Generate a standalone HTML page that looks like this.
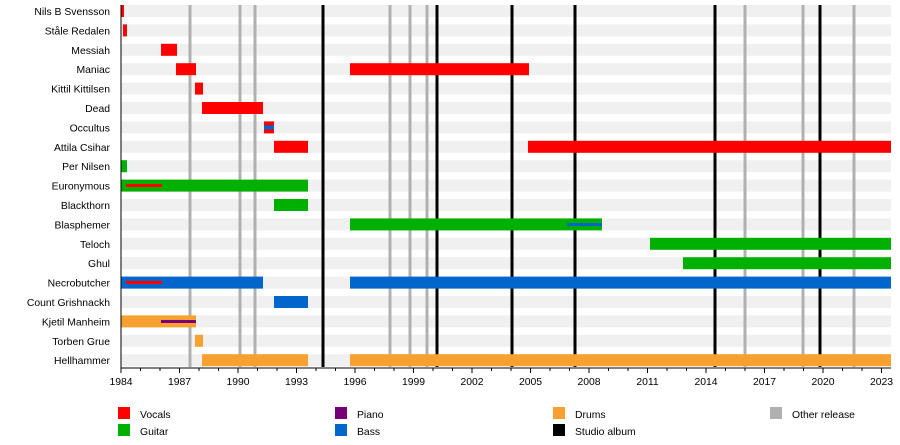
<!DOCTYPE html>
<html><head><meta charset="utf-8"><style>
html,body{margin:0;padding:0;background:#fff;}
svg{display:block;font-family:"Liberation Sans",Arial,sans-serif;font-size:10.4px;}
</style></head><body>
<svg width="900" height="445" viewBox="0 0 900 445" xmlns="http://www.w3.org/2000/svg">
<g fill="#f0f0f0">
<rect x="121" y="5" width="770" height="12"/>
<rect x="121" y="24.4" width="770" height="12"/>
<rect x="121" y="43.8" width="770" height="12"/>
<rect x="121" y="63.2" width="770" height="12"/>
<rect x="121" y="82.6" width="770" height="12"/>
<rect x="121" y="102" width="770" height="12"/>
<rect x="121" y="121.4" width="770" height="12"/>
<rect x="121" y="140.8" width="770" height="12"/>
<rect x="121" y="160.2" width="770" height="12"/>
<rect x="121" y="179.6" width="770" height="12"/>
<rect x="121" y="199" width="770" height="12"/>
<rect x="121" y="218.4" width="770" height="12"/>
<rect x="121" y="237.8" width="770" height="12"/>
<rect x="121" y="257.2" width="770" height="12"/>
<rect x="121" y="276.6" width="770" height="12"/>
<rect x="121" y="296" width="770" height="12"/>
<rect x="121" y="315.4" width="770" height="12"/>
<rect x="121" y="334.8" width="770" height="12"/>
<rect x="121" y="354.2" width="770" height="12"/>
</g>
<g stroke="#b0b0b0" stroke-width="3">
<line x1="190" y1="5" x2="190" y2="367"/>
<line x1="240" y1="5" x2="240" y2="367"/>
<line x1="255" y1="5" x2="255" y2="367"/>
<line x1="390" y1="5" x2="390" y2="367"/>
<line x1="410" y1="5" x2="410" y2="367"/>
<line x1="427" y1="5" x2="427" y2="367"/>
<line x1="745" y1="5" x2="745" y2="367"/>
<line x1="803" y1="5" x2="803" y2="367"/>
<line x1="854" y1="5" x2="854" y2="367"/>
</g>
<g stroke="#000" stroke-width="3">
<line x1="323" y1="5" x2="323" y2="367"/>
<line x1="437" y1="5" x2="437" y2="367"/>
<line x1="512" y1="5" x2="512" y2="367"/>
<line x1="575" y1="5" x2="575" y2="367"/>
<line x1="715" y1="5" x2="715" y2="367"/>
<line x1="820" y1="5" x2="820" y2="367"/>
</g>
<g fill="#ff0000">
<rect x="121" y="5" width="3" height="12"/>
<rect x="123" y="24.4" width="4" height="12"/>
<rect x="161" y="43.8" width="16" height="12"/>
<rect x="176" y="63.2" width="20" height="12"/>
<rect x="350" y="63.2" width="179" height="12"/>
<rect x="195" y="82.6" width="8" height="12"/>
<rect x="202" y="102" width="61" height="12"/>
<rect x="264" y="121.4" width="10" height="12"/>
<rect x="274" y="140.8" width="34" height="12"/>
<rect x="528" y="140.8" width="363" height="12"/>
</g>
<rect x="264" y="125.4" width="10" height="4" fill="#0066cc"/>
<g fill="#00b000">
<rect x="121" y="160.2" width="6" height="12"/>
<rect x="121" y="179.6" width="187" height="12"/>
<rect x="274" y="199" width="34" height="12"/>
<rect x="350" y="218.4" width="252" height="12"/>
<rect x="650" y="237.8" width="241" height="12"/>
<rect x="683" y="257.2" width="208" height="12"/>
</g>
<rect x="126" y="184" width="36" height="3" fill="#ff0000"/>
<rect x="567" y="223" width="35" height="3" fill="#0066cc"/>
<g fill="#0066cc">
<rect x="121" y="276.6" width="142" height="12"/>
<rect x="350" y="276.6" width="541" height="12"/>
<rect x="274" y="296" width="34" height="12"/>
</g>
<rect x="126" y="281" width="36" height="3" fill="#ff0000"/>
<g fill="#f8a030">
<rect x="121" y="315.4" width="75" height="12"/>
<rect x="195" y="334.8" width="8" height="12"/>
<rect x="202" y="354.2" width="106" height="12"/>
<rect x="350" y="354.2" width="541" height="12"/>
</g>
<rect x="161" y="320" width="35" height="3" fill="#770077"/>
<line x1="121" y1="5" x2="121" y2="368" stroke="#000" stroke-width="1"/>
<line x1="121" y1="368" x2="891" y2="368" stroke="#000" stroke-width="1"/>
<g stroke="#000" stroke-width="1">
<line x1="121" y1="368" x2="121" y2="373"/><line x1="140.5" y1="368" x2="140.5" y2="371"/><line x1="160" y1="368" x2="160" y2="371"/>
<line x1="179.5" y1="368" x2="179.5" y2="373"/><line x1="199" y1="368" x2="199" y2="371"/><line x1="218.5" y1="368" x2="218.5" y2="371"/>
<line x1="238" y1="368" x2="238" y2="373"/><line x1="257.5" y1="368" x2="257.5" y2="371"/><line x1="277" y1="368" x2="277" y2="371"/>
<line x1="296.5" y1="368" x2="296.5" y2="373"/><line x1="316" y1="368" x2="316" y2="371"/><line x1="335.5" y1="368" x2="335.5" y2="371"/>
<line x1="355" y1="368" x2="355" y2="373"/><line x1="374.5" y1="368" x2="374.5" y2="371"/><line x1="394" y1="368" x2="394" y2="371"/>
<line x1="413.5" y1="368" x2="413.5" y2="373"/><line x1="433" y1="368" x2="433" y2="371"/><line x1="452.5" y1="368" x2="452.5" y2="371"/>
<line x1="472" y1="368" x2="472" y2="373"/><line x1="491.5" y1="368" x2="491.5" y2="371"/><line x1="511" y1="368" x2="511" y2="371"/>
<line x1="530.5" y1="368" x2="530.5" y2="373"/><line x1="550" y1="368" x2="550" y2="371"/><line x1="569.5" y1="368" x2="569.5" y2="371"/>
<line x1="589" y1="368" x2="589" y2="373"/><line x1="608.5" y1="368" x2="608.5" y2="371"/><line x1="628" y1="368" x2="628" y2="371"/>
<line x1="647.5" y1="368" x2="647.5" y2="373"/><line x1="667" y1="368" x2="667" y2="371"/><line x1="686.5" y1="368" x2="686.5" y2="371"/>
<line x1="706" y1="368" x2="706" y2="373"/><line x1="725.5" y1="368" x2="725.5" y2="371"/><line x1="745" y1="368" x2="745" y2="371"/>
<line x1="764.5" y1="368" x2="764.5" y2="373"/><line x1="784" y1="368" x2="784" y2="371"/><line x1="803.5" y1="368" x2="803.5" y2="371"/>
<line x1="823" y1="368" x2="823" y2="373"/><line x1="842.5" y1="368" x2="842.5" y2="371"/><line x1="862" y1="368" x2="862" y2="371"/>
<line x1="881.5" y1="368" x2="881.5" y2="373"/>
</g>
<g fill="#000" text-anchor="middle">
<text x="121" y="385">1984</text><text x="179.5" y="385">1987</text><text x="238" y="385">1990</text>
<text x="296.5" y="385">1993</text><text x="355" y="385">1996</text><text x="413.5" y="385">1999</text>
<text x="472" y="385">2002</text><text x="530.5" y="385">2005</text><text x="589" y="385">2008</text>
<text x="647.5" y="385">2011</text><text x="706" y="385">2014</text><text x="764.5" y="385">2017</text>
<text x="823" y="385">2020</text><text x="881.5" y="385">2023</text>
</g>
<g fill="#000" text-anchor="end">
<text x="110" y="15">Nils B Svensson</text>
<text x="110" y="34.4">Ståle Redalen</text>
<text x="110" y="53.8">Messiah</text>
<text x="110" y="73.2">Maniac</text>
<text x="110" y="92.6">Kittil Kittilsen</text>
<text x="110" y="112">Dead</text>
<text x="110" y="131.4">Occultus</text>
<text x="110" y="150.8">Attila Csihar</text>
<text x="110" y="170.2">Per Nilsen</text>
<text x="110" y="189.6">Euronymous</text>
<text x="110" y="209">Blackthorn</text>
<text x="110" y="228.4">Blasphemer</text>
<text x="110" y="247.8">Teloch</text>
<text x="110" y="267.2">Ghul</text>
<text x="110" y="286.6">Necrobutcher</text>
<text x="110" y="306">Count Grishnackh</text>
<text x="110" y="325.4">Kjetil Manheim</text>
<text x="110" y="344.8">Torben Grue</text>
<text x="110" y="364.2">Hellhammer</text>
</g>
<rect x="118" y="407" width="12" height="12" fill="#ff0000"/><text x="140" y="418">Vocals</text>
<rect x="118" y="424" width="12" height="12" fill="#00b000"/><text x="140" y="435">Guitar</text>
<rect x="335" y="407" width="12" height="12" fill="#770077"/><text x="357" y="418">Piano</text>
<rect x="335" y="424" width="12" height="12" fill="#0066cc"/><text x="357" y="435">Bass</text>
<rect x="553" y="407" width="12" height="12" fill="#f8a030"/><text x="575" y="418">Drums</text>
<rect x="553" y="424" width="12" height="12" fill="#000"/><text x="575" y="435">Studio album</text>
<rect x="770" y="407" width="12" height="12" fill="#b0b0b0"/><text x="792" y="418">Other release</text>
</svg>
</body></html>
